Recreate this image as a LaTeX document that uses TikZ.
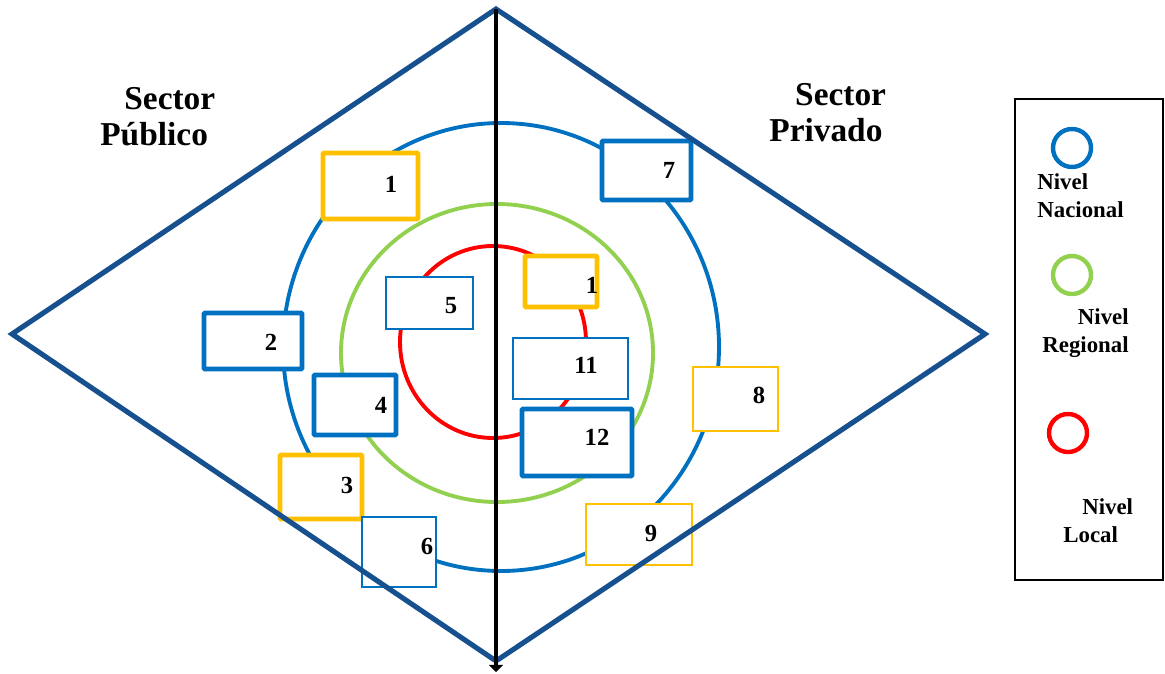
\documentclass[tikz,border=0pt]{standalone}
\usepackage{fontspec}
\setmainfont{Liberation Serif}
\usepackage{tikz}
\usetikzlibrary{arrows.meta}

\definecolor{diamondblue}{RGB}{22,80,142}
\definecolor{nacblue}{RGB}{0,112,192}
\definecolor{reggreen}{RGB}{146,208,80}
\definecolor{locred}{RGB}{255,0,0}
\definecolor{boxyellow}{RGB}{255,192,0}

\begin{document}
\begin{tikzpicture}[
  x=0.02cm, y=-0.02cm,
  ring/.style={line width=2.2pt},
  bigbox/.style={line width=2.8pt, fill=white, rounded corners=0.6pt},
  thinbox/.style={line width=1pt, fill=white},
  num/.style={font=\fontsize{14}{16}\selectfont\bfseries, inner sep=0pt},
  title/.style={font=\fontsize{19}{20.5}\selectfont\bfseries, align=left, inner sep=0pt},
  legtext/.style={font=\fontsize{13}{16}\selectfont\bfseries, inner sep=0pt}
]
\useasboundingbox (0,0) rectangle (1165,673);

\coordinate (top) at (496,9);
\coordinate (right) at (985,334);
\coordinate (bottom) at (496,661);
\coordinate (left) at (12,334);
\coordinate (axisend) at (496,672);

% Levels
\draw[ring, nacblue] (501,347) ellipse [x radius=218, y radius=224];
\draw[ring, reggreen] (497,353) ellipse [x radius=156, y radius=149];
\draw[ring, locred] (493,342) ellipse [x radius=93, y radius=96];

% Actors
\draw[bigbox, draw=boxyellow] (323,153) rectangle (418,219);
\node[num] (a1) at (391,184) {1};
\draw[thinbox, draw=nacblue] (386,277) rectangle (473,329);
\node[num] (a5) at (451,306) {5};
\draw[bigbox, draw=boxyellow] (525,256) rectangle (597,307);
\node[num] (b1) at (592,285) {1};
\draw[bigbox, draw=nacblue] (602,141) rectangle (691,200);
\node[num] (a7) at (669,170) {7};
\draw[bigbox, draw=nacblue] (204,313) rectangle (302,369);
\node[num] (a2) at (271,342) {2};
\draw[bigbox, draw=nacblue] (314,375) rectangle (396,435);
\node[num] (a4) at (381,405) {4};
\draw[bigbox, draw=boxyellow] (280,455) rectangle (362,519);
\node[num] (a3) at (347,485) {3};
\draw[thinbox, draw=nacblue] (362,517) rectangle (436,587);
\node[num] (a6) at (427,546) {6};
\draw[thinbox, draw=nacblue] (513,338) rectangle (628,399);
\node[num] (a11) at (586,365) {11};
\draw[bigbox, draw=nacblue] (522,409) rectangle (632,476);
\node[num] (a12) at (597,437) {12};
\draw[thinbox, draw=boxyellow] (693,367) rectangle (778,431);
\node[num] (a8) at (759,395) {8};
\draw[thinbox, draw=boxyellow] (586,504) rectangle (692,565);
\node[num] (a9) at (651,533) {9};

% Sectors
\draw[line width=2.9pt, diamondblue] (top) -- (right) -- (bottom) -- (left) -- cycle;
\draw[line width=2.8pt, -{Triangle[width=8pt,length=4pt]}] (top) -- (axisend);

\node[title, anchor=north west] (pub) at (100,87) {\hspace*{13.7pt}Sector\\Público};
\node[title, anchor=north west] (priv) at (769,83) {\hspace*{14.7pt}Sector\\Privado};

% Legend
\draw[line width=1.2pt] (1015,99) rectangle (1163,580);
\draw[line width=2.5pt, nacblue] (1072,148) circle [radius=19];
\draw[line width=2.5pt, reggreen] (1072,275) circle [radius=19];
\draw[line width=2.5pt, locred] (1068,433) circle [radius=19];
\node[legtext, align=left, anchor=north west] (lnac) at (1037,173) {Nivel\\Nacional};
\node[legtext, align=right, anchor=north east] (lreg) at (1129,308) {Nivel\\Regional};
\node[legtext, align=left, anchor=north west] (lloc) at (1063,498) {\hspace*{10.8pt}Nivel\\Local};

\end{tikzpicture}
\end{document}
